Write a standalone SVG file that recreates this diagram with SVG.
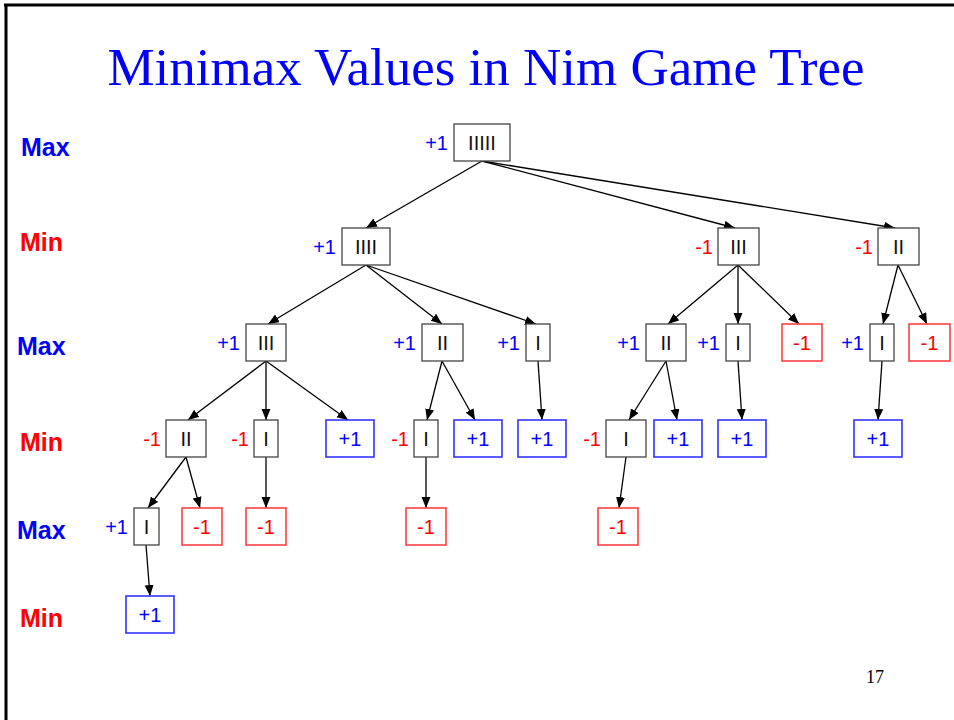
<svg xmlns="http://www.w3.org/2000/svg" width="954" height="720" viewBox="0 0 954 720">
<defs>
<marker id="ah" markerWidth="12" markerHeight="10" refX="11" refY="4.5" orient="auto" markerUnits="userSpaceOnUse">
<path d="M0,0 L11,4.5 L0,9 z" fill="#000"/>
</marker>
<style>
.bx{fill:#fff;stroke:#444;stroke-width:1.3}
.rb{fill:#fff;stroke:#ff4040;stroke-width:1.6}
.bb{fill:#fff;stroke:#3333ff;stroke-width:1.6}
.t{font-family:"Liberation Sans",Arial,sans-serif;font-size:20px;text-anchor:middle;fill:#111}
.tr{font-family:"Liberation Sans",Arial,sans-serif;font-size:20px;text-anchor:middle;fill:#f00}
.tb{font-family:"Liberation Sans",Arial,sans-serif;font-size:20px;text-anchor:middle;fill:#00f}
.lb{font-family:"Liberation Sans",Arial,sans-serif;font-size:20px;text-anchor:end;fill:#00f}
.lr{font-family:"Liberation Sans",Arial,sans-serif;font-size:20px;text-anchor:end;fill:#f00}
.lvmax{font-family:"Liberation Sans",Arial,sans-serif;font-size:25px;font-weight:bold;fill:#00f}
.lvmin{font-family:"Liberation Sans",Arial,sans-serif;font-size:25px;font-weight:bold;fill:#f00}
.e{stroke:#000;stroke-width:1.3;fill:none;marker-end:url(#ah)}
</style>
</defs>
<rect x="0" y="0" width="954" height="720" fill="#fff"/>
<g id="border" stroke="#000" stroke-width="3">
<line x1="4" y1="5" x2="954" y2="5"/>
<line x1="6" y1="4" x2="6" y2="720"/>
</g>
<text x="486" y="85" font-family="'Liberation Serif','Times New Roman',serif" font-size="53" fill="#0000ff" text-anchor="middle">Minimax Values in Nim Game Tree</text>
<text x="875" y="683" font-family="'Liberation Serif','Times New Roman',serif" font-size="18" fill="#000" text-anchor="middle">17</text>
<g id="levels">
<text class="lvmax" x="21" y="156">Max</text>
<text class="lvmin" x="20" y="251">Min</text>
<text class="lvmax" x="17" y="355">Max</text>
<text class="lvmin" x="20" y="451">Min</text>
<text class="lvmax" x="17" y="539">Max</text>
<text class="lvmin" x="20" y="627">Min</text>
</g>
<g id="connectors">
<line class="e" x1="482" y1="161" x2="366" y2="228"/>
<line class="e" x1="482" y1="161" x2="735" y2="228"/>
<line class="e" x1="482" y1="161" x2="895" y2="228"/>
<line class="e" x1="366" y1="265" x2="268" y2="324"/>
<line class="e" x1="366" y1="265" x2="442" y2="324"/>
<line class="e" x1="366" y1="265" x2="536" y2="324"/>
<line class="e" x1="738" y1="265" x2="668" y2="324"/>
<line class="e" x1="738" y1="265" x2="738" y2="324"/>
<line class="e" x1="738" y1="265" x2="799" y2="324"/>
<line class="e" x1="898" y1="265" x2="883" y2="324"/>
<line class="e" x1="898" y1="265" x2="927" y2="324"/>
<line class="e" x1="266" y1="361" x2="188" y2="420"/>
<line class="e" x1="266" y1="361" x2="266" y2="420"/>
<line class="e" x1="266" y1="361" x2="348" y2="420"/>
<line class="e" x1="442" y1="361" x2="427" y2="420"/>
<line class="e" x1="442" y1="361" x2="475" y2="420"/>
<line class="e" x1="538" y1="361" x2="542" y2="420"/>
<line class="e" x1="666" y1="361" x2="629" y2="420"/>
<line class="e" x1="666" y1="361" x2="677" y2="420"/>
<line class="e" x1="738" y1="361" x2="742" y2="420"/>
<line class="e" x1="882" y1="361" x2="878" y2="420"/>
<line class="e" x1="186" y1="457" x2="148" y2="508"/>
<line class="e" x1="186" y1="457" x2="200" y2="508"/>
<line class="e" x1="266" y1="457" x2="266" y2="508"/>
<line class="e" x1="426" y1="457" x2="426" y2="508"/>
<line class="e" x1="626" y1="457" x2="619" y2="508"/>
<line class="e" x1="146" y1="545" x2="150" y2="596"/>
</g>
<g id="n1"><rect class="bx" x="454" y="124" width="56" height="37"/><text class="t" x="482" y="150">IIIII</text><text class="lb" x="448" y="150">+1</text></g>
<g id="n2a"><rect class="bx" x="342" y="228" width="48" height="37"/><text class="t" x="366" y="254">IIII</text><text class="lb" x="336" y="254">+1</text></g>
<g id="n2b"><rect class="bx" x="718" y="228" width="41" height="37"/><text class="t" x="738.5" y="254">III</text><text class="lr" x="713" y="254">-1</text></g>
<g id="n2c"><rect class="bx" x="878" y="228" width="41" height="37"/><text class="t" x="898.5" y="254">II</text><text class="lr" x="873" y="254">-1</text></g>
<g id="n3a"><rect class="bx" x="246" y="324" width="40" height="37"/><text class="t" x="266" y="350">III</text><text class="lb" x="240" y="350">+1</text></g>
<g id="n3b"><rect class="bx" x="422" y="324" width="41" height="37"/><text class="t" x="442.5" y="350">II</text><text class="lb" x="416" y="350">+1</text></g>
<g id="n3c"><rect class="bx" x="526" y="324" width="24" height="37"/><text class="t" x="538" y="350">I</text><text class="lb" x="520" y="350">+1</text></g>
<g id="n3d"><rect class="bx" x="646" y="324" width="40" height="37"/><text class="t" x="666" y="350">II</text><text class="lb" x="640" y="350">+1</text></g>
<g id="n3e"><rect class="bx" x="726" y="324" width="24" height="37"/><text class="t" x="738" y="350">I</text><text class="lb" x="720" y="350">+1</text></g>
<g id="n3f"><rect class="rb" x="782" y="324" width="40" height="37"/><text class="tr" x="802" y="350">-1</text></g>
<g id="n3g"><rect class="bx" x="870" y="324" width="24" height="37"/><text class="t" x="882" y="350">I</text><text class="lb" x="864" y="350">+1</text></g>
<g id="n3h"><rect class="rb" x="909" y="324" width="41" height="37"/><text class="tr" x="929.5" y="350">-1</text></g>
<g id="n4a"><rect class="bx" x="166" y="420" width="40" height="37"/><text class="t" x="186" y="446">II</text><text class="lr" x="161" y="446">-1</text></g>
<g id="n4b"><rect class="bx" x="254" y="420" width="24" height="37"/><text class="t" x="266" y="446">I</text><text class="lr" x="249" y="446">-1</text></g>
<g id="n4c"><rect class="bb" x="326" y="420" width="48" height="37"/><text class="tb" x="350" y="446">+1</text></g>
<g id="n4d"><rect class="bx" x="414" y="420" width="24" height="37"/><text class="t" x="426" y="446">I</text><text class="lr" x="409" y="446">-1</text></g>
<g id="n4e"><rect class="bb" x="454" y="420" width="48" height="37"/><text class="tb" x="478" y="446">+1</text></g>
<g id="n4f"><rect class="bb" x="518" y="420" width="48" height="37"/><text class="tb" x="542" y="446">+1</text></g>
<g id="n4g"><rect class="bx" x="606" y="420" width="40" height="37"/><text class="t" x="626" y="446">I</text><text class="lr" x="601" y="446">-1</text></g>
<g id="n4h"><rect class="bb" x="654" y="420" width="48" height="37"/><text class="tb" x="678" y="446">+1</text></g>
<g id="n4i"><rect class="bb" x="718" y="420" width="48" height="37"/><text class="tb" x="742" y="446">+1</text></g>
<g id="n4j"><rect class="bb" x="854" y="420" width="48" height="37"/><text class="tb" x="878" y="446">+1</text></g>
<g id="n5a"><rect class="bx" x="134" y="508" width="25" height="37"/><text class="t" x="146.5" y="534">I</text><text class="lb" x="128" y="534">+1</text></g>
<g id="n5b"><rect class="rb" x="182" y="508" width="40" height="37"/><text class="tr" x="202" y="534">-1</text></g>
<g id="n5c"><rect class="rb" x="246" y="508" width="40" height="37"/><text class="tr" x="266" y="534">-1</text></g>
<g id="n5d"><rect class="rb" x="406" y="508" width="40" height="37"/><text class="tr" x="426" y="534">-1</text></g>
<g id="n5e"><rect class="rb" x="598" y="508" width="40" height="37"/><text class="tr" x="618" y="534">-1</text></g>
<g id="n6a"><rect class="bb" x="126" y="596" width="48" height="37"/><text class="tb" x="150" y="622">+1</text></g>
</svg>
